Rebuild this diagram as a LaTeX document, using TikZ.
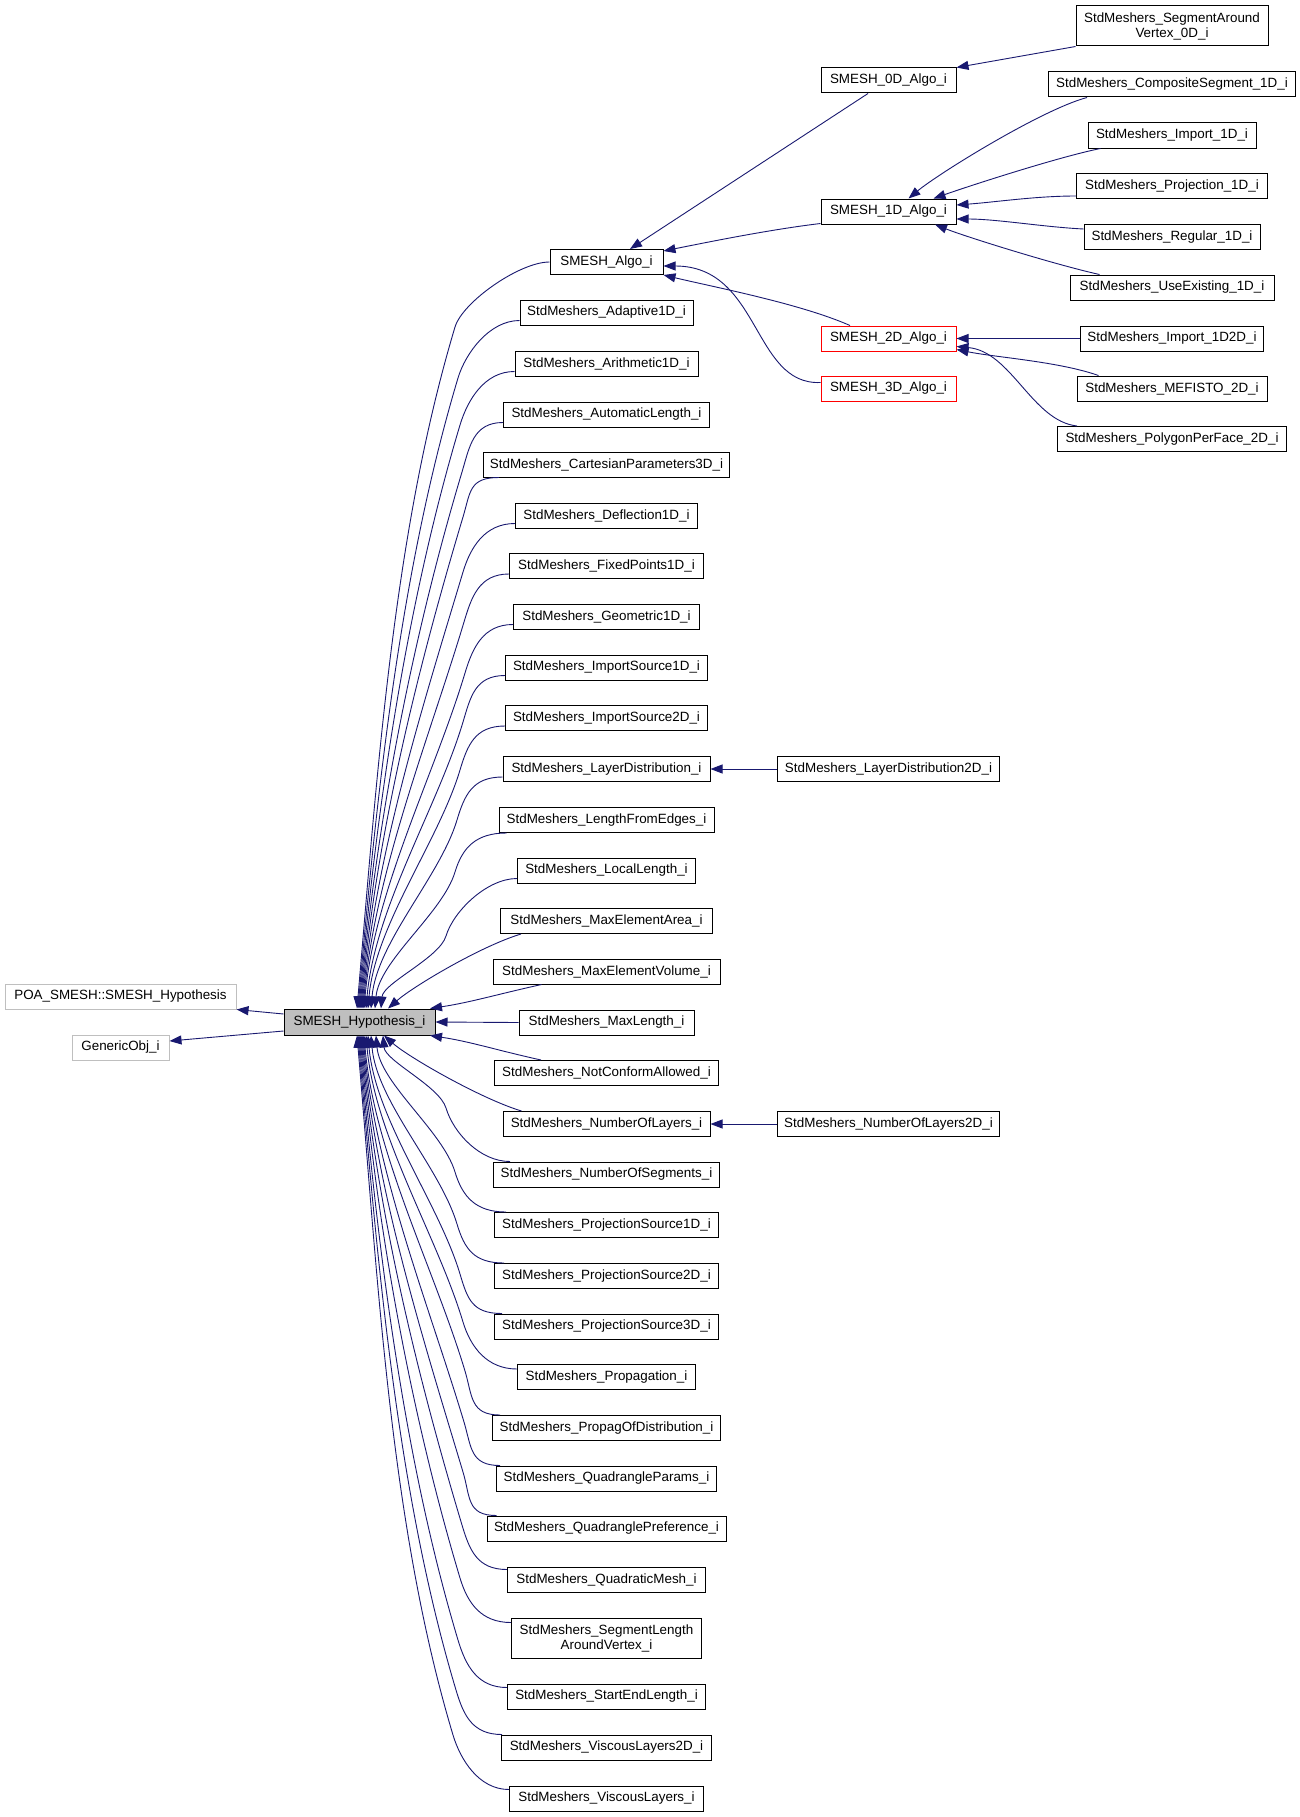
\documentclass[tikz,border=0pt]{standalone}
\usepackage{fontspec}
\setmainfont{Liberation Sans}
\usetikzlibrary{arrows.meta}
\definecolor{edgeblue}{HTML}{191970}
\definecolor{boxgray}{HTML}{BFBFBF}
\newcommand\upE[4]{%
  \draw[edge] (#1) .. controls +(-30,0) and +(7.5,-25) .. (#2,#3)
    .. controls +({-0.09*(1009-#3)},{0.3*(1009-#3)}) and +({0.03*(1009-#3)},{-0.35*(1009-#3)})
    .. ([xshift={(#4-359.5)*1pt}]hyp.north);}
\newcommand\loE[4]{%
  \draw[edge] (#1) .. controls +(-30,0) and +(7.5,25) .. (#2,#3)
    .. controls +({-0.09*(#3-1035)},{-0.3*(#3-1035)}) and +({0.03*(#3-1035)},{0.35*(#3-1035)})
    .. ([xshift={(#4-359.5)*1pt}]hyp.south);}
\begin{document}
\begin{tikzpicture}[x=1pt,y=-1pt,
  box/.style={draw=black, line width=1pt, inner sep=0pt, font=\fontsize{13.4}{15}\selectfont, align=center, minimum height=25pt},
  gbox/.style={box, draw=boxgray},
  rbox/.style={box, draw=red},
  hbox/.style={box, fill=boxgray},
  edge/.style={draw=edgeblue, line width=0.9pt, -{Triangle[length=12pt,width=9pt]}}]
\fill[white] (0,0) rectangle (1300,1817);
\useasboundingbox (0,0) rectangle (1300,1817);

% left-side base classes and hypothesis
\node[hbox, minimum width=151pt, minimum height=26pt] (hyp) at (359.5,1022) {SMESH\_Hypothesis\_i};
\node[gbox, minimum width=231pt] (poa) at (120.5,996.5) {POA\_SMESH::SMESH\_Hypothesis};
\node[gbox, minimum width=97pt] (gen) at (120.5,1047.5) {GenericObj\_i};

% left column
\node[box, minimum width=113pt] (algo) at (606.5,262) {SMESH\_Algo\_i};
\node[box, minimum width=173pt] (adapt) at (606.5,312.5) {StdMeshers\_Adaptive1D\_i};
\node[box, minimum width=183pt] (arith) at (606.5,363.5) {StdMeshers\_Arithmetic1D\_i};
\node[box, minimum width=206pt] (autol) at (606.5,414.5) {StdMeshers\_AutomaticLength\_i};
\node[box, minimum width=246pt] (cart) at (606.5,464.5) {StdMeshers\_CartesianParameters3D\_i};
\node[box, minimum width=182pt] (defl) at (606.5,515.5) {StdMeshers\_Deflection1D\_i};
\node[box, minimum width=194pt] (fixp) at (606.5,566) {StdMeshers\_FixedPoints1D\_i};
\node[box, minimum width=186pt] (geom) at (606.5,616.5) {StdMeshers\_Geometric1D\_i};
\node[box, minimum width=202pt] (imp1) at (606.5,667.5) {StdMeshers\_ImportSource1D\_i};
\node[box, minimum width=202pt] (imp2) at (606.5,718) {StdMeshers\_ImportSource2D\_i};
\node[box, minimum width=207pt] (layd) at (606.5,769) {StdMeshers\_LayerDistribution\_i};
\node[box, minimum width=215pt] (lfe) at (606.5,820) {StdMeshers\_LengthFromEdges\_i};
\node[box, minimum width=178pt] (locl) at (606.5,870.5) {StdMeshers\_LocalLength\_i};
\node[box, minimum width=212pt] (mea) at (606.5,921) {StdMeshers\_MaxElementArea\_i};
\node[box, minimum width=227pt] (mev) at (606.5,971.5) {StdMeshers\_MaxElementVolume\_i};
\node[box, minimum width=175pt] (maxl) at (606.5,1022.5) {StdMeshers\_MaxLength\_i};
\node[box, minimum width=224pt] (nca) at (606.5,1073) {StdMeshers\_NotConformAllowed\_i};
\node[box, minimum width=207pt] (nol) at (606.5,1124) {StdMeshers\_NumberOfLayers\_i};
\node[box, minimum width=226pt] (nos) at (606.5,1174.5) {StdMeshers\_NumberOfSegments\_i};
\node[box, minimum width=224pt] (ps1) at (606.5,1225) {StdMeshers\_ProjectionSource1D\_i};
\node[box, minimum width=224pt] (ps2) at (606.5,1276) {StdMeshers\_ProjectionSource2D\_i};
\node[box, minimum width=224pt] (ps3) at (606.5,1326.5) {StdMeshers\_ProjectionSource3D\_i};
\node[box, minimum width=178pt] (prop) at (606.5,1377) {StdMeshers\_Propagation\_i};
\node[box, minimum width=228pt] (pod) at (606.5,1428) {StdMeshers\_PropagOfDistribution\_i};
\node[box, minimum width=220pt] (qp) at (606.5,1478.5) {StdMeshers\_QuadrangleParams\_i};
\node[box, minimum width=239pt] (qpref) at (606.5,1528.5) {StdMeshers\_QuadranglePreference\_i};
\node[box, minimum width=198pt] (qm) at (606.5,1579.5) {StdMeshers\_QuadraticMesh\_i};
\node[box, minimum width=190pt, minimum height=40pt] (sla) at (606.5,1638) {StdMeshers\_SegmentLength\\AroundVertex\_i};
\node[box, minimum width=198pt] (sel) at (606.5,1696.5) {StdMeshers\_StartEndLength\_i};
\node[box, minimum width=210pt] (vl2) at (606.5,1747.5) {StdMeshers\_ViscousLayers2D\_i};
\node[box, minimum width=194pt] (vl) at (606.5,1798.5) {StdMeshers\_ViscousLayers\_i};

% middle column
\node[box, minimum width=135pt] (d0) at (888.5,80.5) {SMESH\_0D\_Algo\_i};
\node[box, minimum width=135pt] (d1) at (888.5,211.5) {SMESH\_1D\_Algo\_i};
\node[rbox, minimum width=135pt] (d2) at (888.5,338.5) {SMESH\_2D\_Algo\_i};
\node[rbox, minimum width=135pt] (d3) at (888.5,388.5) {SMESH\_3D\_Algo\_i};
\node[box, minimum width=222pt] (layd2) at (888.5,769) {StdMeshers\_LayerDistribution2D\_i};
\node[box, minimum width=222pt] (nol2) at (888.5,1124) {StdMeshers\_NumberOfLayers2D\_i};

% right column
\node[box, minimum width=192pt, minimum height=40pt] (sav) at (1172,26) {StdMeshers\_SegmentAround\\Vertex\_0D\_i};
\node[box, minimum width=247pt] (comp) at (1172,84.5) {StdMeshers\_CompositeSegment\_1D\_i};
\node[box, minimum width=168pt] (imp1d) at (1172,135.5) {StdMeshers\_Import\_1D\_i};
\node[box, minimum width=191pt] (proj1d) at (1172,186) {StdMeshers\_Projection\_1D\_i};
\node[box, minimum width=176pt] (reg1d) at (1172,237) {StdMeshers\_Regular\_1D\_i};
\node[box, minimum width=204pt] (use1d) at (1172,287.5) {StdMeshers\_UseExisting\_1D\_i};
\node[box, minimum width=183pt] (imp12) at (1172,338.5) {StdMeshers\_Import\_1D2D\_i};
\node[box, minimum width=190pt] (mef) at (1172,388.5) {StdMeshers\_MEFISTO\_2D\_i};
\node[box, minimum width=229pt] (poly) at (1172,439) {StdMeshers\_PolygonPerFace\_2D\_i};

% hypothesis -> bases
\draw[edge] ([yshift=8pt]hyp.west) -- (poa.south east);
\draw[edge] ([yshift=-9pt]hyp.west) -- ([yshift=6.5pt]gen.east);

% upper children
\upE{algo.west}{455}{327}{357}
\upE{[yshift=5pt]adapt.south west}{458}{378}{358}
\upE{[yshift=5pt]arith.south west}{460}{425}{359}
\upE{[yshift=5pt]autol.south west}{462}{472}{360}
\upE{[xshift=16pt]cart.south west}{463}{517}{361}
\upE{[yshift=5pt]defl.south west}{463}{572}{362}
\upE{[yshift=5pt]fixp.south west}{464}{622}{363}
\upE{[yshift=5pt]geom.south west}{465}{673}{364}
\upE{[yshift=5pt]imp1.south west}{463}{722}{366}
\upE{[yshift=5pt]imp2.south west}{460}{770}{368}
\upE{[yshift=5pt]layd.south west}{457}{820}{371}
\upE{[xshift=8pt]lfe.south west}{455}{872}{375}
\upE{[yshift=5pt]locl.south west}{446}{936}{381}
\draw[edge] ([xshift=21pt]mea.south west) .. controls +(-40,12) and +(25,-22) .. ([xshift=28.5pt]hyp.north);
\draw[edge] ([xshift=49pt]mev.south west) .. controls +(-45,10) and +(40,-6) .. ([xshift=70.5pt]hyp.north);
\draw[edge] (maxl.west) -- (hyp.east);
\draw[edge] ([xshift=47pt]nca.north west) .. controls +(-45,-10) and +(40,6) .. ([xshift=70.5pt]hyp.south);
\draw[edge] ([xshift=19pt]nol.north west) .. controls +(-40,-12) and +(25,22) .. ([xshift=24.5pt]hyp.south);

% lower children
\loE{[xshift=17pt]nos.north west}{446}{1108}{383}
\loE{[xshift=12pt]ps1.north west}{455}{1172}{376}
\loE{[xshift=10pt]ps2.north west}{457}{1224}{371}
\loE{[xshift=8pt]ps3.north west}{460}{1274}{368}
\loE{[yshift=-5pt]prop.north west}{463}{1322}{366}
\loE{[xshift=8pt]pod.north west}{465}{1371}{364}
\loE{[xshift=4pt]qp.north west}{464}{1422}{363}
\loE{[xshift=10pt]qpref.north west}{463}{1472}{362}
\loE{[yshift=-3pt]qm.north west}{462}{1525}{361}
\loE{[yshift=-5pt]sla.north west}{460}{1578}{360}
\loE{[yshift=-4pt]sel.north west}{458}{1640}{359}
\loE{[xshift=1pt]vl2.north west}{456}{1690}{358}
\loE{[yshift=-4pt]vl.north west}{453}{1735}{357}

% algo hierarchy
\draw[edge] ([xshift=-20.5pt]d0.south) -- ([xshift=23.5pt]algo.north);
\draw[edge] ([yshift=1pt]d1.south west) .. controls +(-50,6) and +(50,-10) .. ([yshift=11pt]algo.east);
\draw[edge] ([xshift=-38.5pt]d2.north) .. controls +(-50,-22) and +(50,12) .. ([yshift=-13pt]algo.east);
\draw[edge] ([yshift=6pt]d3.west) .. controls +(-68,3) and +(97,0) .. ([yshift=-4pt]algo.east);

\draw[edge] (sav.south west) -- (d0.north east);
\draw[edge] ([xshift=39pt]comp.south west) .. controls +(-45,12) and +(30,-25) .. ([xshift=20pt]d1.north);
\draw[edge] ([xshift=13pt]imp1d.south west) .. controls +(-40,8) and +(40,-14) .. ([xshift=45pt]d1.north);
\draw[edge] ([yshift=-10pt]proj1d.west) .. controls +(-40,0) and +(40,-3) .. ([yshift=6.5pt]d1.east);
\draw[edge] ([yshift=8pt]reg1d.west) .. controls +(-40,-2) and +(40,0) .. ([yshift=-7.5pt]d1.east);
\draw[edge] ([xshift=30pt]use1d.north west) .. controls +(-45,-10) and +(30,12) .. ([xshift=46.5pt]d1.south);

\draw[edge] (imp12.west) -- (d2.east);
\draw[edge] ([xshift=22pt]mef.north west) .. controls +(-40,-14) and +(40,8) .. ([yshift=2pt]d2.south east);
\draw[edge] ([xshift=20pt]poly.north west) .. controls +(-45,-5) and +(55,5) .. ([yshift=5pt]d2.south east);

\draw[edge] (layd2.west) -- (layd.east);
\draw[edge] (nol2.west) -- (nol.east);
\end{tikzpicture}
\end{document}
